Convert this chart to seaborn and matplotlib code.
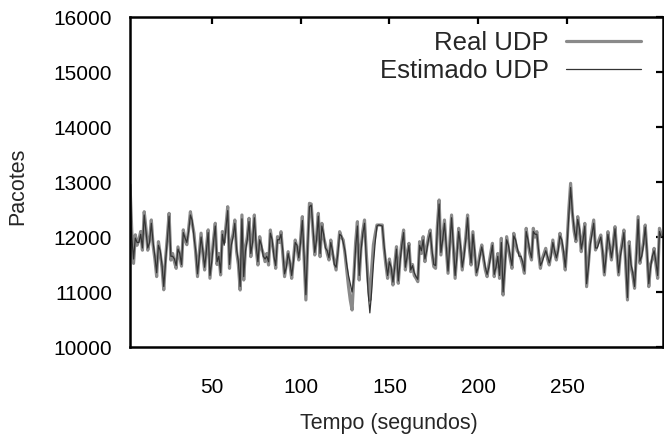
import numpy as np
import pandas as pd
import matplotlib
matplotlib.use("Agg")
import matplotlib.pyplot as plt
import seaborn as sns

# time axis (seconds)
tempo = list(range(4, 304))

real_udp = [
    12950, 12100, 11520, 12040, 11850, 11950, 12100, 11760, 12460, 12150,
    11760, 11950, 12310, 11850, 11600, 11280, 11915, 11700, 11450, 11040,
    11600, 12000, 12430, 11580, 11700, 11550, 11430, 11820, 11650, 11470,
    12130, 11950, 11860, 12150, 12460, 12250, 12070, 11700, 11280, 11700,
    12070, 11700, 11400, 11800, 12130, 11250, 11600, 11950, 12250, 11500,
    11700, 11310, 12100, 11900, 12200, 12551, 11430, 11900, 12050, 12309,
    11733, 11500, 11036, 12400, 11218, 11800, 12000, 12340, 11642, 11950,
    12400, 11800, 11491, 12006, 11800, 11700, 11552, 11700, 11491, 12127,
    11900, 11700, 11430, 12006, 11900, 12097, 11700, 11279, 11500, 11733,
    11500, 11248, 11600, 11945, 11800, 11582, 11950, 12370, 11600, 10855,
    11855, 12612, 12600, 12100, 11673, 12000, 12430, 11642, 12248, 12000,
    11855, 11700, 11582, 11945, 11700, 11550, 11400, 11750, 12097, 12000,
    11945, 11700, 11400, 11100, 10850, 10673, 11300, 11900, 12279, 11218,
    11800, 12100, 12309, 11700, 11200, 10850, 11400, 11855, 12050, 12218,
    12218, 12218, 12218, 11800, 11500, 11248, 11600, 11400, 11127, 11500,
    11824, 11158, 11600, 11900, 12127, 11400, 11700, 11885, 11370, 11500,
    11300, 11250, 11188, 11915, 11700, 12006, 11552, 11800, 12000, 12127,
    11700, 11461, 11430, 12200, 12673, 11673, 12000, 12309, 11800, 11340,
    11900, 12400, 11800, 11248, 11700, 12158, 11800, 11400, 11700, 12000,
    12400, 11800, 11491, 12097, 11700, 11309, 11500, 11700, 11855, 11600,
    11400, 11279, 11500, 11700, 11885, 11279, 11500, 11700, 11248, 11976,
    10945, 11500, 12006, 11800, 11600, 11430, 12067, 11900, 11750, 11700,
    11612, 11500, 11340, 12158, 11900, 11700, 11582, 12158, 12000, 12097,
    11700, 11430, 11600, 11700, 11794, 11600, 11491, 11700, 11945, 11700,
    11582, 11800, 12067, 11900, 11700, 11400, 11900, 12500, 12976, 12430,
    12100, 11915, 12370, 12100, 11733, 12000, 12248, 11097, 11500, 11900,
    12100, 12309, 11764, 11850, 11950, 12036, 11700, 11309, 11700, 12097,
    11800, 11582, 11900, 12188, 11700, 11309, 11700, 11900, 12127, 11500,
    10855, 11915, 11461, 11300, 11067, 11700, 12370, 11521, 11700, 11900,
    12218, 11700, 11097, 11500, 11600, 11794, 11500, 11248, 12158, 12036,
]

estimado_udp = [
    12800, 12000, 11600, 11980, 11900, 11900, 12050, 11800, 12400, 12100,
    11800, 11900, 12250, 11900, 11650, 11350, 11850, 11750, 11500, 11100,
    11550, 11950, 12380, 11650, 11650, 11600, 11480, 11780, 11700, 11500,
    12080, 11980, 11900, 12100, 12400, 12300, 12000, 11750, 11330, 11650,
    12000, 11750, 11450, 11750, 12080, 11300, 11550, 11900, 12200, 11550,
    11650, 11350, 12050, 11850, 12150, 12480, 11500, 11850, 12000, 12250,
    11780, 11550, 11100, 12330, 11280, 11750, 11950, 12280, 11700, 11900,
    12350, 11850, 11550, 11950, 11850, 11650, 11600, 11650, 11550, 12070,
    11950, 11650, 11480, 11950, 11950, 12050, 11750, 11330, 11450, 11700,
    11550, 11300, 11550, 11900, 11850, 11620, 11900, 12300, 11650, 10950,
    11800, 12550, 12580, 12150, 11720, 11950, 12380, 11700, 12200, 12050,
    11800, 11750, 11620, 11900, 11750, 11500, 11450, 11700, 12050, 12020,
    11900, 11750, 11500, 11300, 11150, 11000, 11250, 11800, 12200, 11300,
    11750, 12050, 12250, 11600, 11000, 10620, 11000, 11500, 11900, 12200,
    12220, 12210, 12200, 11850, 11550, 11300, 11550, 11450, 11180, 11450,
    11780, 11200, 11550, 11850, 12080, 11450, 11650, 11850, 11400, 11480,
    11350, 11280, 11230, 11850, 11750, 11950, 11600, 11750, 11950, 12080,
    11750, 11500, 11480, 12150, 12600, 11720, 11950, 12250, 11850, 11380,
    11850, 12350, 11850, 11300, 11650, 12100, 11850, 11450, 11650, 11950,
    12350, 11850, 11530, 12050, 11750, 11350, 11450, 11650, 11820, 11650,
    11450, 11320, 11450, 11650, 11850, 11320, 11450, 11650, 11300, 11900,
    11000, 11450, 11950, 11850, 11650, 11480, 12020, 11950, 11800, 11650,
    11650, 11550, 11380, 12100, 11950, 11750, 11620, 12100, 12050, 12050,
    11750, 11480, 11550, 11650, 11750, 11650, 11530, 11650, 11900, 11750,
    11620, 11750, 12020, 11950, 11750, 11450, 11850, 12400, 12900, 12450,
    12150, 11950, 12320, 12150, 11780, 11950, 12200, 11150, 11450, 11850,
    12050, 12250, 11800, 11800, 11900, 12000, 11750, 11350, 11650, 12050,
    11850, 11620, 11850, 12150, 11750, 11350, 11650, 11850, 12080, 11550,
    10900, 11850, 11500, 11350, 11100, 11650, 12320, 11560, 11650, 11850,
    12180, 11750, 11150, 11450, 11650, 11750, 11550, 11300, 12100, 12000,
]

x_ticks = [50, 100, 150, 200, 250]
y_ticks = [10000, 11000, 12000, 13000, 14000, 15000, 16000]

df_real = pd.DataFrame({"Tempo": tempo, "Pacotes": real_udp})
df_est = pd.DataFrame({"Tempo": tempo, "Pacotes": estimado_udp})

sns.set_style("white")
plt.rcParams["font.family"] = ["Liberation Sans", "DejaVu Sans"]

fig = plt.figure(figsize=(6.64, 4.36), dpi=100)
ax = fig.add_axes([130 / 664, 1 - 347 / 436, 533 / 664, 330 / 436])

sns.lineplot(data=df_real, x="Tempo", y="Pacotes", ax=ax, color="#8a8a8a",
             linewidth=2.3, label="Real UDP")
sns.lineplot(data=df_est, x="Tempo", y="Pacotes", ax=ax, color="#333333",
             linewidth=0.9, label="Estimado UDP")

ax.set_xlim(4, 304)
ax.set_ylim(10000, 16000)
ax.set_xticks(x_ticks)
ax.set_yticks(y_ticks)
ax.set_xticklabels([str(v) for v in x_ticks])
ax.set_yticklabels([str(v) for v in y_ticks])

for s in ax.spines.values():
    s.set_visible(True)
    s.set_linewidth(1.8)
    s.set_color("black")

ax.tick_params(axis="both", which="both", direction="in", length=5, width=1.6,
               top=True, right=True, labelsize=15, colors="black")
ax.tick_params(axis="x", pad=22)
ax.tick_params(axis="y", pad=13)

ax.set_xlabel("Tempo (segundos)", fontsize=15.5)
ax.set_ylabel("Pacotes", fontsize=15.5)
ax.xaxis.set_label_coords((389 - 130) / 533, (347 - 423) / 330)
ax.xaxis.label.set_va("center")
ax.yaxis.set_label_coords((18 - 130) / 533, (347 - 186) / 330)
ax.yaxis.label.set_va("center")

leg = ax.legend(loc="upper right", bbox_to_anchor=(641 / 664, 1 - 31 / 436),
                bbox_transform=fig.transFigure, frameon=False, markerfirst=False,
                fontsize=18.5, handlelength=2.9, handletextpad=0.7,
                labelspacing=0.15, borderpad=0, borderaxespad=0)

fig.savefig("out.png", dpi=100)
